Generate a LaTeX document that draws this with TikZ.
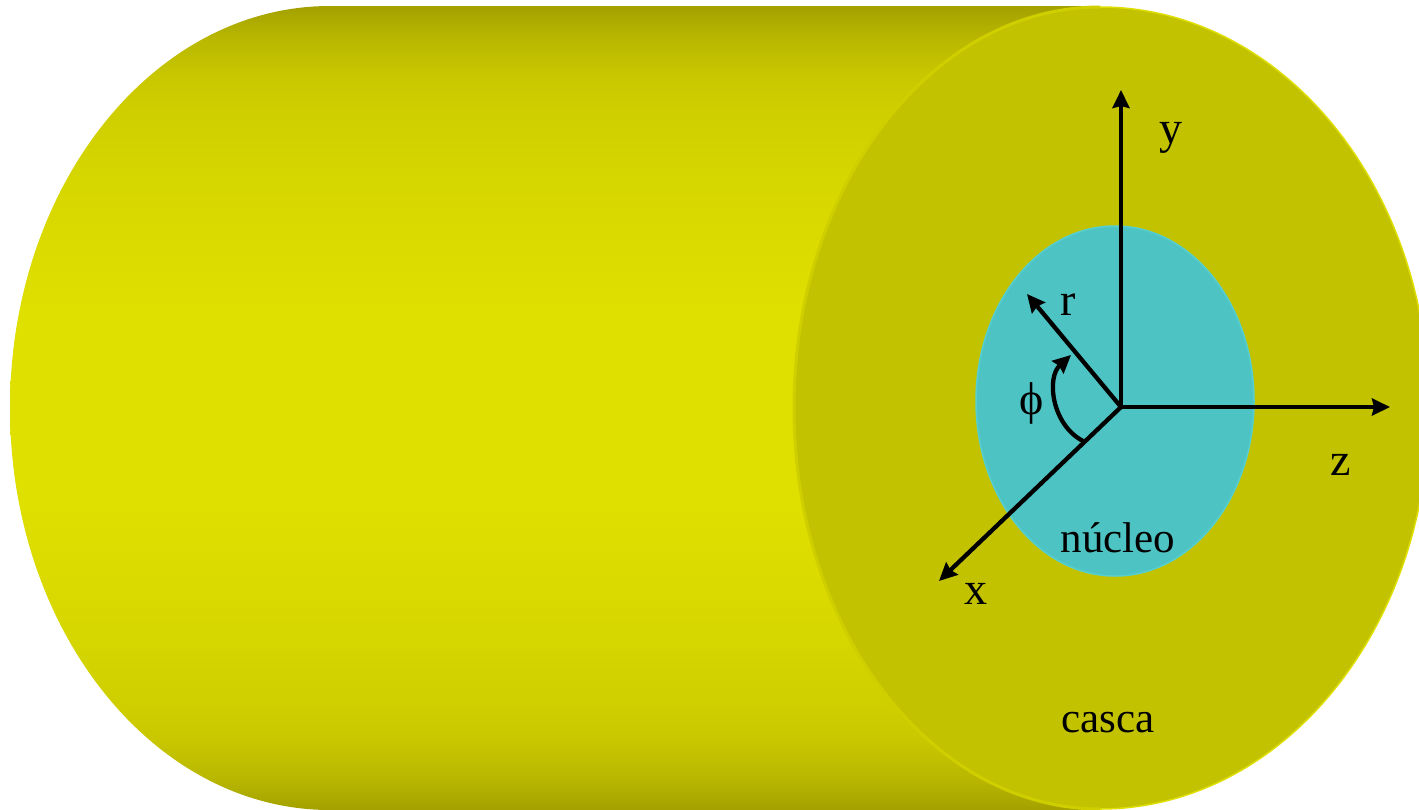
\documentclass[tikz,border=0pt]{standalone}
\usepackage{fontspec}
\setmainfont{Liberation Serif}
\usetikzlibrary{arrows.meta,shapes.geometric}
\definecolor{shellface}{HTML}{C2C200}
\definecolor{shellrimleft}{HTML}{CFCF00}
\definecolor{shellrimright}{HTML}{DEDE00}
\definecolor{corefill}{HTML}{4EC3C3}
\definecolor{corerim}{HTML}{55CFCF}
\definecolor{bd0}{HTML}{A3A000}
\definecolor{bd1}{HTML}{AEAC00}
\definecolor{bd2}{HTML}{B9B700}
\definecolor{bd3}{HTML}{C9C800}
\definecolor{bd4}{HTML}{CFCF00}
\definecolor{bd5}{HTML}{D8D800}
\definecolor{bd6}{HTML}{E0E000}
\pgfdeclareverticalshading{bodyshade}{100bp}{
  color(0bp)=(bd0);
  color(25bp)=(bd0);
  color(26bp)=(bd1);
  color(27bp)=(bd2);
  color(29.5bp)=(bd3);
  color(31.75bp)=(bd4);
  color(37bp)=(bd5);
  color(45bp)=(bd6);
  color(55bp)=(bd6);
  color(63bp)=(bd5);
  color(68.25bp)=(bd4);
  color(70.5bp)=(bd3);
  color(73bp)=(bd2);
  color(74bp)=(bd1);
  color(75bp)=(bd0);
  color(100bp)=(bd0)}
\tikzset{
  axis/.style={line width=4.3pt,black,-{Stealth[length=18pt,width=17pt,inset=2pt]}},
  lab/.style={anchor=base,inner sep=0pt,font=\fontsize{46}{46}\selectfont,text=black},
  word/.style={anchor=base,inner sep=0pt,font=\fontsize{43}{43}\selectfont,text=black},
  disc/.style={ellipse,inner sep=0pt,outer sep=0pt}
}
\begin{document}
\begin{tikzpicture}[x=1pt,y=-1pt]
\useasboundingbox (0,0) rectangle (1419,809);
\fill[white] (0,0) rectangle (1419,809);
\shade[shading=bodyshade] (1100,6) -- (330,6)
  arc[start angle=-90,end angle=-270,x radius=320,y radius=402] -- (1100,810) -- cycle;
\fill[shellface] (1100,7)
  arc[start angle=-90,end angle=-270,x radius=305,y radius=401]
  arc[start angle=90,end angle=-90,x radius=329,y radius=401] -- cycle;
\draw[shellrimleft,line width=3pt] (1100,7)
  arc[start angle=-90,end angle=-270,x radius=306,y radius=401];
\draw[shellrimright,line width=1.5pt] (1100,7)
  arc[start angle=-90,end angle=90,x radius=329,y radius=401];
\node[disc,fill=corefill,draw=corerim,line width=1.5pt,minimum width=278pt,minimum height=350pt] (core) at (1115,401) {};
\coordinate (o) at (1121,407);
\coordinate (ytip) at (1121,90);
\coordinate (ztip) at (1390,407);
\coordinate (xtip) at (939,581);
\coordinate (rtip) at (1027,294);
\coordinate (phistart) at (1083,441);
\coordinate (phic1) at (1052,425);
\coordinate (phic2) at (1046,378);
\coordinate (phiend) at (1071,355);
\draw[axis] (o) -- (ytip);
\draw[axis] (o) -- (ztip);
\draw[axis] (o) -- (xtip);
\draw[axis] (o) -- (rtip);
\draw[axis] (phistart) .. controls (phic1) and (phic2) .. (phiend);
\node[lab] (ylab) at (1171,143) {y};
\node[lab] (zlab) at (1341,475) {z};
\node[lab] (xlab) at (976,604) {x};
\node[lab] (rlab) at (1068,315) {r};
\node[lab] (philab) at (1032,414) {ϕ};
\node[word] (nucleo) at (1118,552) {núcleo};
\node[word] (casca) at (1108,732) {casca};
\end{tikzpicture}
\end{document}
